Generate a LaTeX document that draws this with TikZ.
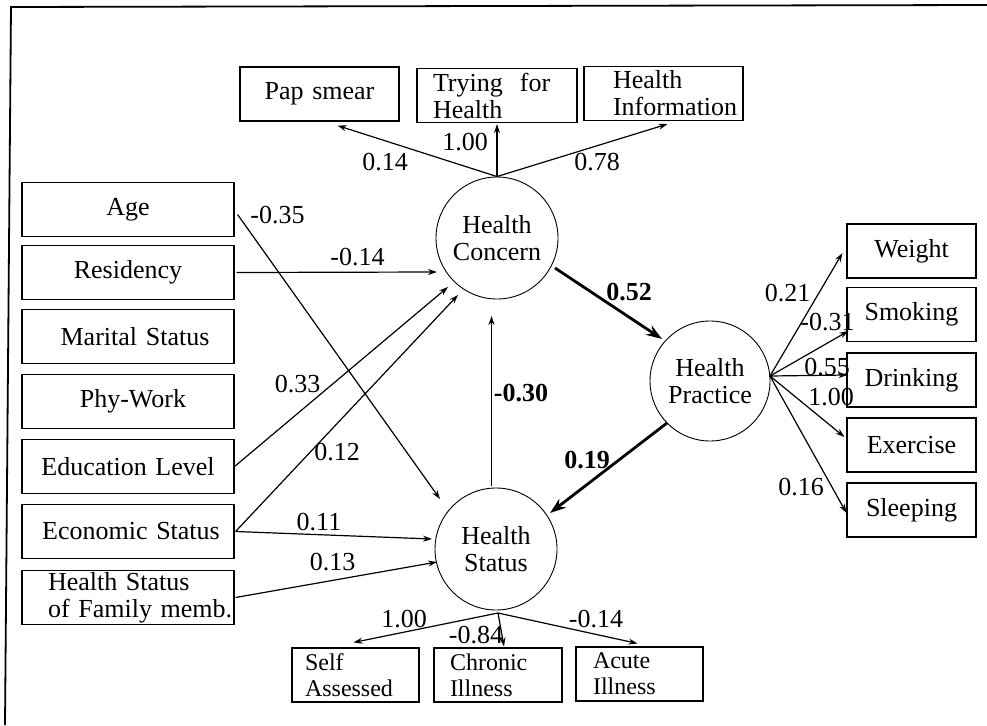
\documentclass[tikz,border=0pt]{standalone}
\usepackage{fontspec}
\setmainfont{Liberation Serif}
\usetikzlibrary{arrows.meta,calc}
\begin{document}
\begin{tikzpicture}[x=1pt,y=-1pt,
  every node/.style={font=\fontsize{26}{27}\selectfont},
  obox/.style={draw,line width=1.1pt,inner xsep=0pt,inner ysep=0pt,minimum height=54pt},
  lat/.style={draw,circle,line width=0.9pt,inner sep=0pt,minimum size=122pt,align=center},
  arr/.style={line width=1.2pt,-{Stealth[length=9pt,width=6pt]}},
  barr/.style={line width=2.8pt,-{Stealth[length=16pt,width=11pt]}},
  lab/.style={inner sep=0pt},
  blab/.style={inner sep=0pt,font=\fontsize{26}{27}\selectfont\bfseries},
  sbox/.style={obox,font=\fontsize{24}{26}\selectfont,align=left}]
\useasboundingbox (0,0) rectangle (987,725);
\draw[line width=1.8pt] (5,725) -- (11,7) -- (987,5);
% left boxes
\node[obox,text width=212pt,align=center] (age) at (128,209.5) {Age};
\node[obox,text width=212pt,align=center] (res) at (128,272.5) {Residency};
\node[obox,text width=212pt,align=center] (mar) at (128,336.5) {\hspace*{14pt}Marital Status};
\node[obox,text width=212pt,align=center] (phy) at (128,401.5) {\hspace*{10pt}Phy-Work};
\node[obox,text width=212pt,align=center] (edu) at (128,466.5) {Education Level};
\node[obox,text width=212pt,align=center] (eco) at (128,531.5) {\hspace*{6pt}Economic Status};
\node[obox,text width=212pt,align=left] (fam) at (128,597.5) {\hspace*{26pt}Health Status\\\hspace*{26pt}of Family memb.};
% top boxes
\node[obox,text width=159pt,align=center] (pap) at (319.5,94) {Pap smear};
\node[obox,text width=160pt,align=left] (try) at (497,95.5) {\hspace*{16pt}Trying\hspace{17pt}for\\\hspace*{16pt}Health};
\node[obox,text width=159pt,align=left] (info) at (663.5,93.5) {\hspace*{29pt}Health\\\hspace*{29pt}Information};
% right boxes
\node[obox,text width=129pt,align=center] (wei) at (911.5,251) {Weight};
\node[obox,text width=129pt,align=center] (smo) at (911.5,314.5) {Smoking};
\node[obox,text width=129pt,align=center] (dri) at (911.5,380) {Drinking};
\node[obox,text width=129pt,align=center] (exe) at (911.5,445) {Exercise};
\node[obox,text width=129pt,align=center] (sle) at (911.5,510) {Sleeping};
% bottom boxes
\node[sbox,text width=127pt] (self) at (355.5,675) {\hspace*{13pt}Self\\\hspace*{13pt}Assessed};
\node[sbox,text width=128pt] (chr) at (498,675) {\hspace*{16pt}Chronic\\\hspace*{16pt}Illness};
\node[sbox,text width=127pt] (acu) at (639.5,674) {\hspace*{17pt}Acute\\\hspace*{17pt}Illness};
% latent variables
\node[lat] (hc) at (497,238) {Health\\Concern};
\node[lat,minimum size=120pt] (hp) at (710,381) {Health\\Practice};
\node[lat] (hs) at (496,549) {Health\\Status};
\coordinate (hpo) at ($(hp)+(60,-5)$);
\coordinate (hso) at ($(hs)+(2,64)$);
% connectors
\draw[arr] (hc.north) -- ($(pap.south)+(18,4)$);
\draw[arr] (hc.north) -- ($(try.south)+(0,1)$);
\draw[arr] (hc.north) -- ($(info.south)+(4,3)$);
\draw[arr] ($(age.east)+(3,5)$) -- ($(hs)+(-56,-50)$);
\draw[arr] ($(res.east)+(2,0)$) -- ($(hc)+(-60,34)$);
\draw[arr] (edu.east) -- ($(hc)+(-49,49)$);
\draw[arr] ($(eco.east)+(1,0)$) -- ($(hc)+(-39,57)$);
\draw[arr] ($(eco.east)+(1,0)$) -- ($(hs)+(-64,-10)$);
\draw[arr] ($(fam.east)+(1,0)$) -- ($(hs)+(-59,13)$);
\draw[arr] ($(hs)+(-4.5,-63)$) -- ($(hc)+(-5.5,78)$);
\draw[barr] ($(hc)+(58,30)$) -- ($(hp)+(-48,-42)$);
\draw[barr] ($(hp)+(-43,42)$) -- ($(hs)+(54,-36)$);
\draw[arr] (hpo) -- ($(wei.west)+(-4,2)$);
\draw[arr] (hpo) -- ($(smo.west)+(2,16.5)$);
\draw[arr] (hpo) -- ($(dri.west)+(1,-5)$);
\draw[arr] (hpo) -- ($(exe.west)+(-2,-8)$);
\draw[arr] (hpo) -- ($(sle.west)+(0,3)$);
\draw[arr] (hso) -- ($(self.north)+(-2,-5)$);
\draw[arr] (hso) -- ($(chr.north)+(6,-1)$);
\draw[arr] (hso) -- ($(acu.north)+(-2,-3)$);
% labels
\node[lab] (l1) at (385,162) {0.14};
\node[lab] (l2) at (465,142) {1.00};
\node[lab] (l3) at (597,162) {0.78};
\node[lab] (l4) at (277.5,215) {-0.35};
\node[lab] (l5) at (357.5,257) {-0.14};
\node[lab] (l6) at (297.5,384) {0.33};
\node[lab] (l7) at (337,452) {0.12};
\node[lab] (l8) at (319,522) {0.11};
\node[lab] (l9) at (332.5,562.5) {0.13};
\node[blab] (l10) at (521,393) {-0.30};
\node[blab] (l11) at (629,292) {0.52};
\node[blab] (l12) at (587,460) {0.19};
\node[lab] (l13) at (787.5,293) {0.21};
\node[lab] (l14) at (827.5,322.5) {-0.31};
\node[lab] (l15) at (827,367) {0.55};
\node[lab] (l16) at (831,397.5) {1.00};
\node[lab] (l17) at (801,487.5) {0.16};
\node[lab] (l18) at (404,619) {1.00};
\node[lab] (l19) at (476,635) {-0.84};
\node[lab] (l20) at (596,619) {-0.14};
\end{tikzpicture}
\end{document}
